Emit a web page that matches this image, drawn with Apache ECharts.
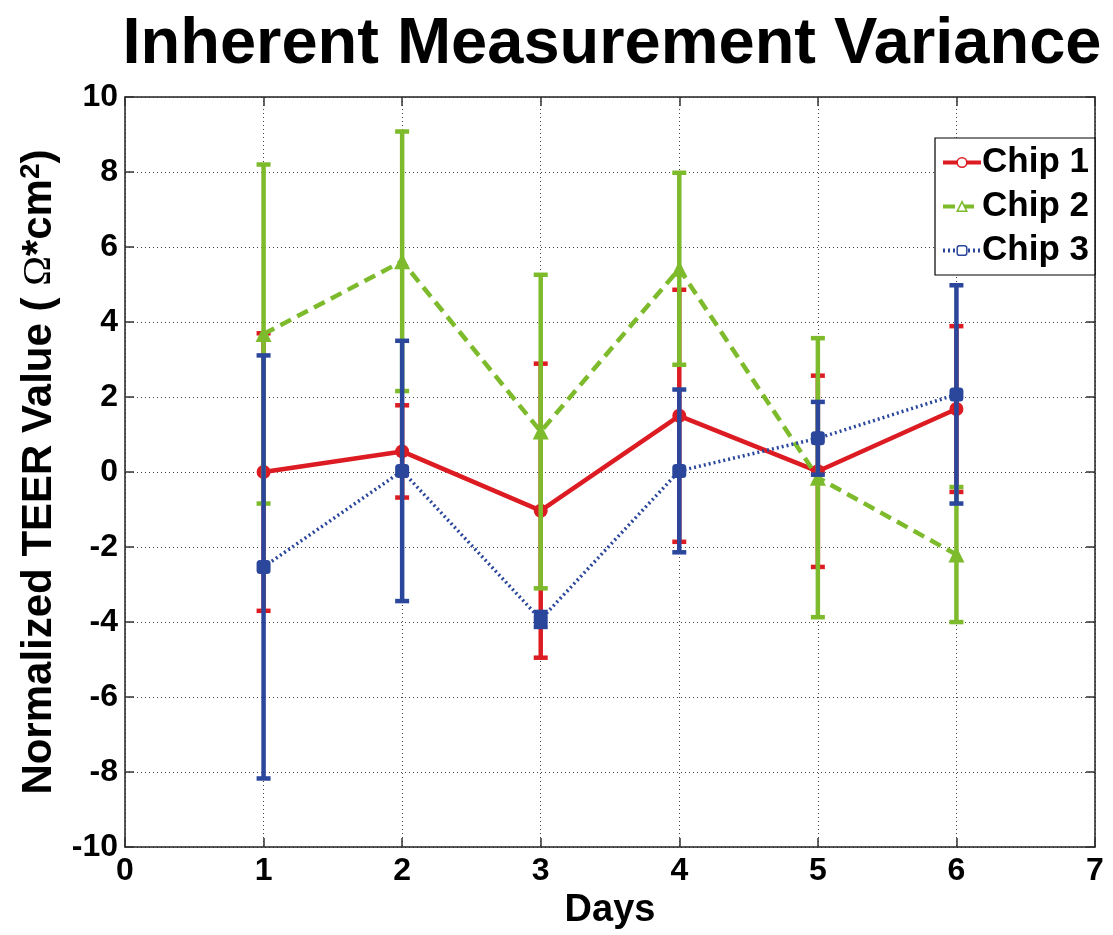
<!DOCTYPE html>
<html>
<head>
<meta charset="utf-8">
<script src="https://cdn.jsdelivr.net/npm/echarts@6/dist/echarts.min.js"></script>
<style>
  html, body { margin: 0; padding: 0; background: #fff; }
  #main { width: 1113px; height: 935px; }
</style>
</head>
<body>
<div id="main"></div>
<script>
// data
const days = [1, 2, 3, 4, 5, 6]
const seriesNames = ['Chip 1', 'Chip 2', 'Chip 3']
const chip1Mean = [0, 0.55, -1.03, 1.5, 0.02, 1.68]
const chip1Err = [3.7, 1.23, 3.92, 3.36, 2.55, 2.21]
const chip2Mean = [3.68, 5.62, 1.08, 5.42, -0.15, -2.2]
const chip2Err = [4.52, 3.46, 4.18, 2.56, 3.72, 1.8]
const chip3Mean = [-2.53, 0.03, -3.93, 0.03, 0.9, 2.07]
const chip3Err = [5.64, 3.47, 0.2, 2.17, 0.97, 2.91]
const xTicks = [0, 1, 2, 3, 4, 5, 6, 7]
const yTicks = [-10, -8, -6, -4, -2, 0, 2, 4, 6, 8, 10]

const FONT = '"Liberation Sans", Arial, Helvetica, sans-serif'
const colors = ['#dc1c22', '#7dbb2c', '#2b479c']

const chartBox = echarts.init(document.getElementById('main'))

// error bar drawn with a custom series
function errBar (name, mean, err, color, z) {
  return {
    name: name + ' err',
    type: 'custom',
    z: z,
    encode: { x: 0, y: [1, 2] },
    data: days.map((d, i) => [d, mean[i] - err[i], mean[i] + err[i]]),
    renderItem: function (params, api) {
      const lo = api.coord([api.value(0), api.value(1)])
      const hi = api.coord([api.value(0), api.value(2)])
      const hw = 7
      const style = { stroke: color, lineWidth: 4.5 }
      return {
        type: 'group',
        children: [
          { type: 'line', shape: { x1: lo[0], y1: lo[1], x2: hi[0], y2: hi[1] }, style: style },
          { type: 'line', shape: { x1: lo[0] - hw, y1: lo[1], x2: lo[0] + hw, y2: lo[1] }, style: style },
          { type: 'line', shape: { x1: hi[0] - hw, y1: hi[1], x2: hi[0] + hw, y2: hi[1] }, style: style }
        ]
      }
    }
  }
}

function lineSeries (name, mean, color, symbol, size, lineType, width, z) {
  return {
    name: name,
    type: 'line',
    z: z,
    data: days.map((d, i) => [d, mean[i]]),
    symbol: symbol,
    symbolSize: size,
    showAllSymbol: true,
    lineStyle: { color: color, width: width, type: lineType },
    itemStyle: { color: color },
    emphasis: { disabled: true }
  }
}

const axisText = { color: '#000', fontFamily: FONT, fontWeight: 'bold', fontSize: 32 }
const splitDotted = { show: true, lineStyle: { color: '#444', width: 1, type: [1, 3] } }
const axisLineBlack = { show: true, onZero: false, lineStyle: { color: '#222', width: 1.5 } }
const tickIn = { show: true, inside: true, length: 9, lineStyle: { color: '#333', width: 1.5 } }

const option = {
  backgroundColor: '#fff',
  animation: false,
  title: {
    text: 'Inherent Measurement Variance',
    left: 607,
    top: 8,
    textAlign: 'center',
    textStyle: { fontFamily: FONT, fontWeight: 'bold', fontSize: 65, color: '#000' }
  },
  grid: { left: 125, right: 18, top: 97, bottom: 80, containLabel: false },
  legend: {
    orient: 'vertical',
    left: 935,
    top: 138,
    width: 159,
    backgroundColor: '#fff',
    borderColor: '#000',
    borderWidth: 1.2,
    borderRadius: 0,
    padding: [7, 6, 7, 6],
    itemGap: 9,
    itemWidth: 38,
    itemHeight: 12,
    data: seriesNames.map((n, i) => ({
      name: n,
      itemStyle: { color: '#fff', borderColor: colors[i], borderWidth: 1.5 },
      lineStyle: { width: 4 }
    })),
    textStyle: { fontFamily: FONT, fontWeight: 'bold', fontSize: 35, color: '#000', lineHeight: 35, padding: [0, 0, 0, -4] }
  },
  xAxis: [
    {
      type: 'value',
      min: xTicks[0],
      max: xTicks[xTicks.length - 1],
      interval: 1,
      name: 'Days',
      nameLocation: 'middle',
      nameGap: 38,
      nameTextStyle: { color: '#000', fontFamily: FONT, fontWeight: 'bold', fontSize: 38 },
      axisLine: axisLineBlack,
      axisTick: tickIn,
      axisLabel: Object.assign({ margin: 8 }, axisText),
      splitLine: splitDotted
    },
    {
      type: 'value',
      position: 'top',
      min: xTicks[0],
      max: xTicks[xTicks.length - 1],
      interval: 1,
      axisLine: axisLineBlack,
      axisTick: tickIn,
      axisLabel: { show: false },
      splitLine: { show: false }
    }
  ],
  yAxis: [
    {
      type: 'value',
      min: yTicks[0],
      max: yTicks[yTicks.length - 1],
      interval: 2,
      name: 'Normalized TEER Value ( {om|Ω}*cm{sup|2})',
      nameLocation: 'middle',
      nameGap: 53,
      nameTextStyle: {
        color: '#000', fontFamily: FONT, fontWeight: 'bold', fontSize: 42,
        rich: {
          om: { fontFamily: '"Liberation Serif", "DejaVu Serif", serif', fontWeight: 'normal', fontSize: 40, color: '#000' },
          sup: { fontFamily: FONT, fontWeight: 'bold', fontSize: 28, verticalAlign: 'top', padding: [0, 0, 18, 0], color: '#000' }
        }
      },
      axisLine: axisLineBlack,
      axisTick: tickIn,
      axisLabel: Object.assign({ margin: 7 }, axisText),
      splitLine: splitDotted
    },
    {
      type: 'value',
      position: 'right',
      min: yTicks[0],
      max: yTicks[yTicks.length - 1],
      interval: 2,
      axisLine: axisLineBlack,
      axisTick: tickIn,
      axisLabel: { show: false },
      splitLine: { show: false }
    }
  ],
  series: [
    errBar('Chip 1', chip1Mean, chip1Err, colors[0], 2),
    lineSeries('Chip 1', chip1Mean, colors[0], 'circle', 14, 'solid', 4.5, 2),
    errBar('Chip 2', chip2Mean, chip2Err, colors[1], 3),
    lineSeries('Chip 2', chip2Mean, colors[1], 'triangle', 16, [12, 7], 4.5, 3),
    errBar('Chip 3', chip3Mean, chip3Err, colors[2], 4),
    lineSeries('Chip 3', chip3Mean, colors[2], 'roundRect', 14, [2, 3], 3.5, 4)
  ]
}

chartBox.setOption(option, true)
window.addEventListener('resize', function () {
  chartBox.resize()
})
</script>
</body>
</html>
